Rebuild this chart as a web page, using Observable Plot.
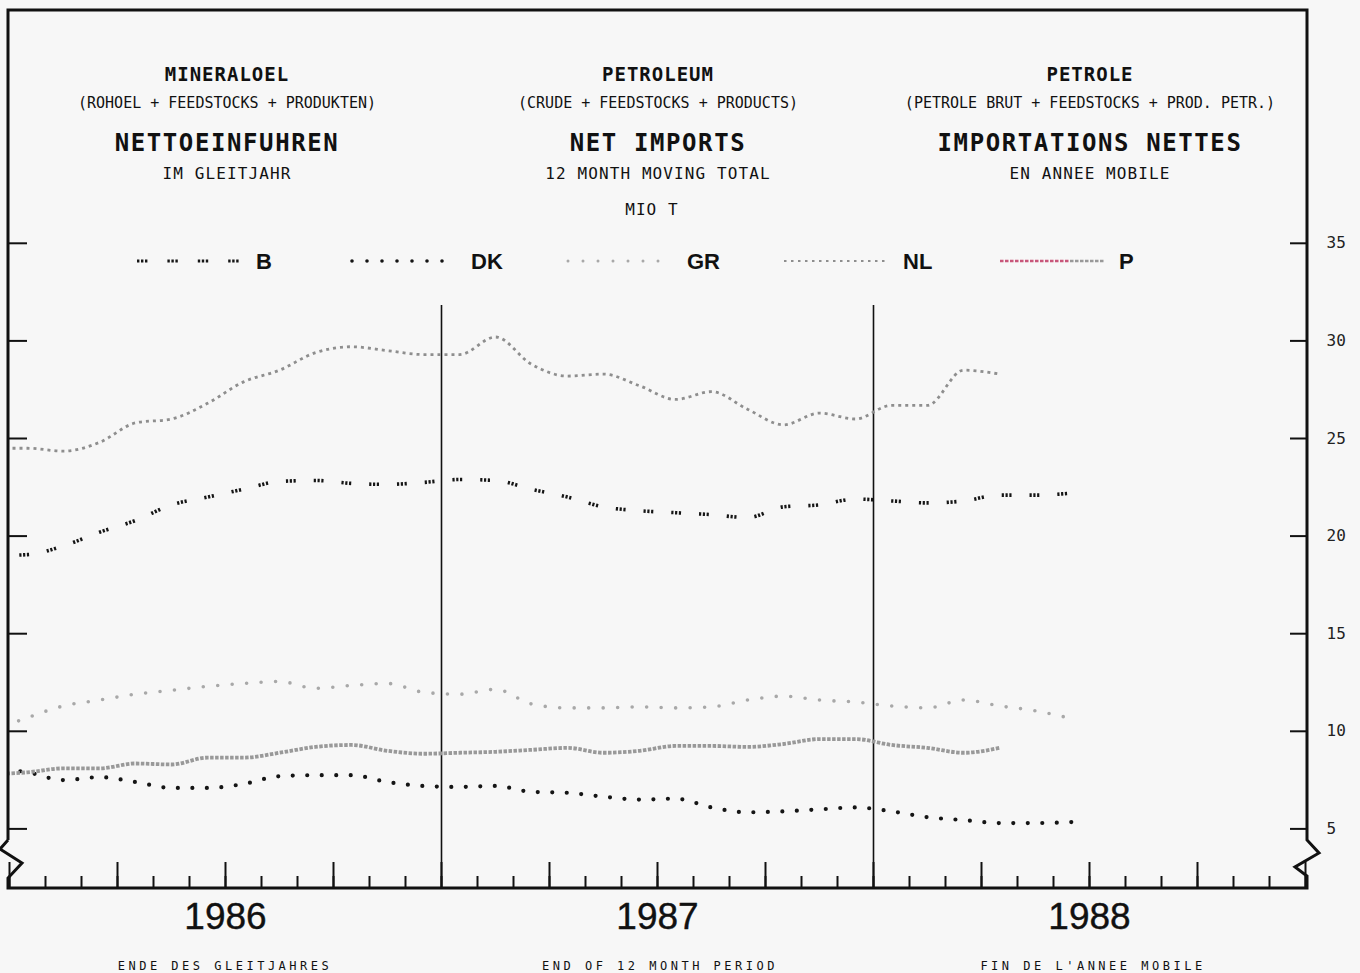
<!DOCTYPE html>
<html>
<head>
<meta charset="utf-8">
<script src="https://cdn.jsdelivr.net/npm/d3@7"></script>
<script src="https://cdn.jsdelivr.net/npm/@observablehq/plot@0.6"></script>
<style>
  html, body { margin: 0; padding: 0; background: #f7f7f7; }
  #chart { width: 1360px; height: 973px; }
</style>
</head>
<body>
<div id="chart"></div>
<script>
// ---------- DATA (Mio t, 12 month moving total, by end month) ----------
const months = [
  "1985-12",
  "1986-01","1986-02","1986-03","1986-04","1986-05","1986-06",
  "1986-07","1986-08","1986-09","1986-10","1986-11","1986-12",
  "1987-01","1987-02","1987-03","1987-04","1987-05","1987-06",
  "1987-07","1987-08","1987-09","1987-10","1987-11","1987-12",
  "1988-01","1988-02","1988-03","1988-04","1988-05","1988-06"
];
const seriesB  = [19.0, 19.05, 19.5, 20.2, 20.8, 21.6, 22.0, 22.4, 22.8, 22.85, 22.7, 22.65, 22.75,
                  22.9, 22.85, 22.4, 22.0, 21.5, 21.3, 21.2, 21.1, 20.95, 21.5, 21.6, 21.9,
                  21.8, 21.7, 21.8, 22.1, 22.1, 22.2];
const seriesDK = [8.1, 7.9, 7.5, 7.65, 7.4, 7.1, 7.1, 7.3, 7.7, 7.75, 7.75, 7.4, 7.2,
                  7.15, 7.2, 6.9, 6.85, 6.65, 6.5, 6.55, 6.1, 5.85, 5.9, 6.0, 6.1,
                  5.9, 5.6, 5.45, 5.3, 5.3, 5.35];
const seriesGR = [10.0, 10.7, 11.3, 11.6, 11.9, 12.1, 12.3, 12.45, 12.55, 12.2, 12.35, 12.45, 12.0,
                  11.9, 12.15, 11.4, 11.2, 11.2, 11.25, 11.2, 11.25, 11.6, 11.8, 11.6, 11.5,
                  11.3, 11.2, 11.6, 11.3, 11.05, 10.65];
const seriesNL = [24.5, 24.5, 24.35, 24.8, 25.8, 26.0, 26.8, 27.9, 28.5, 29.4, 29.7, 29.5, 29.3,
                  29.3, 30.2, 28.8, 28.2, 28.3, 27.7, 27.0, 27.4, 26.5, 25.7, 26.3, 26.0,
                  26.7, 26.7, 28.5, 28.3, null, null];
const seriesP  = [7.8, 7.9, 8.1, 8.1, 8.35, 8.3, 8.65, 8.65, 8.9, 9.2, 9.3, 9.0, 8.85,
                  8.9, 8.95, 9.05, 9.15, 8.9, 9.0, 9.25, 9.25, 9.2, 9.35, 9.6, 9.6,
                  9.3, 9.15, 8.9, 9.15, null, null];

const seriesNames = ["B", "DK", "GR", "NL", "P"];
const yTicks = [5, 10, 15, 20, 25, 30, 35];
const yearLabels = ["1986", "1987", "1988"];
const captionLabels = ["ENDE DES GLEITJAHRES", "END OF 12 MONTH PERIOD", "FIN DE L'ANNEE MOBILE"];
const titleDE = ["MINERALOEL", "(ROHOEL + FEEDSTOCKS + PRODUKTEN)", "NETTOEINFUHREN", "IM GLEITJAHR"];
const titleEN = ["PETROLEUM", "(CRUDE + FEEDSTOCKS + PRODUCTS)", "NET IMPORTS", "12 MONTH MOVING TOTAL"];
const titleFR = ["PETROLE", "(PETROLE BRUT + FEEDSTOCKS + PROD. PETR.)", "IMPORTATIONS NETTES", "EN ANNEE MOBILE"];
const unitLabel = "MIO T";

// ---------- derived ----------
const monthIndex = m => { const [Y, M] = m.split("-").map(Number); return (Y - 1986) * 12 + (M - 1) + 0.5; };
const valuesBySeries = {B: seriesB, DK: seriesDK, GR: seriesGR, NL: seriesNL, P: seriesP};
const rows = {};
for (const s of seriesNames) {
  rows[s] = months.map((m, i) => ({t: monthIndex(m), v: valuesBySeries[s][i]})).filter(d => d.v != null);
}
const monthTicks = d3.range(0, 37);
const quarterTicks = d3.range(0, 37, 3);
const yearBreaks = [12, 24];
const yearMids = yearLabels.map((y, i) => i * 12 + 6);

const styles = {
  B:  {stroke: "#151515", strokeWidth: 3.6, strokeDasharray: "2.2 1.6 2.2 1.6 2.2 18", strokeLinecap: "butt"},
  DK: {stroke: "#151515", strokeWidth: 4.2, strokeDasharray: "0 14.5", strokeLinecap: "round"},
  GR: {stroke: "#a8a8a8", strokeWidth: 3.6, strokeDasharray: "0 14.5", strokeLinecap: "round"},
  NL: {stroke: "#8e8e8e", strokeWidth: 2.8, strokeDasharray: "3 4", strokeLinecap: "butt"},
  P:  {stroke: "#999999", strokeWidth: 3.8, strokeDasharray: "3.5 1.5", strokeLinecap: "butt"}
};

const MONO = "DejaVu Sans Mono";
const frameW = 1307 - 8, frameH = 888 - 10;

const plot = Plot.plot({
  width: 1360, height: 973,
  marginLeft: 8, marginRight: 53, marginTop: 10, marginBottom: 85,
  x: {domain: [0, 36], range: [9, 1305], axis: null},
  y: {domain: [0, 45], range: [926, 47.6], axis: null},
  style: {background: "transparent", fontFamily: MONO, color: "#111", overflow: "visible"},
  marks: [
    // year boundaries
    Plot.ruleX(yearBreaks, {x: d => d, insetTop: 295, stroke: "#111", strokeWidth: 1.6}),
    // month / quarter ticks
    Plot.tickX(monthTicks, {x: d => d, insetTop: frameH - 12, stroke: "#111", strokeWidth: 2}),
    Plot.tickX(quarterTicks, {x: d => d, insetTop: frameH - 26, stroke: "#111", strokeWidth: 2}),
    // y ticks, both sides, inward
    Plot.tickY(yTicks, {y: d => d, insetLeft: frameW - 17, stroke: "#111", strokeWidth: 2}),
    Plot.tickY(yTicks, {y: d => d, insetRight: frameW - 19, stroke: "#111", strokeWidth: 2}),
    Plot.text(yTicks, {y: d => d, text: d => String(d), frameAnchor: "right", dx: 19, textAnchor: "start",
                       fontSize: 16, fontFamily: MONO, fill: "#222"}),
    // year labels
    Plot.text(yearMids, {x: d => d, text: (d, i) => yearLabels[i], frameAnchor: "bottom", dy: 40,
                         fontSize: 37, fontFamily: "Liberation Sans", fill: "#111", stroke: "#111", strokeWidth: 0.4}),
    // series
    ...seriesNames.map(s => Plot.line(rows[s], {x: "t", y: "v", curve: "monotone-x", clip: true, ...styles[s]}))
  ]
});
document.getElementById("chart").appendChild(plot);

// ---------- decorations: frame with axis breaks, titles, legend, captions ----------
const svg = d3.select(plot);
const framePath = [
  [8, 840], [8, 10], [1307, 10], [1307, 840], [1319, 853], [1295, 867], [1307, 876], [1307, 888],
  [8, 888], [8, 878], [22, 863], [0, 849], [8, 840]
];
svg.append("path")
  .attr("d", d3.line()(framePath))
  .attr("fill", "none").attr("stroke", "#111").attr("stroke-width", 3).attr("stroke-linejoin", "miter");

const cols = [227, 658, 1090];
const titleSets = [titleDE, titleEN, titleFR];
const rowSpecs = [
  {y: 74, size: 19, weight: "bold", ls: 1},
  {y: 103, size: 15, weight: "normal", ls: 0},
  {y: 143, size: 24, weight: "bold", ls: 1.6},
  {y: 173, size: 16, weight: "normal", ls: 1.1}
];
titleSets.forEach((set, c) => {
  set.forEach((txt, r) => {
    const sp = rowSpecs[r];
    svg.append("text").text(txt)
      .attr("x", cols[c]).attr("y", sp.y)
      .attr("text-anchor", "middle").attr("dominant-baseline", "central")
      .attr("font-family", MONO).attr("font-size", sp.size).attr("font-weight", sp.weight)
      .attr("letter-spacing", sp.ls).attr("fill", "#111");
  });
});
svg.append("text").text(unitLabel)
  .attr("x", 652).attr("y", 209).attr("text-anchor", "middle").attr("dominant-baseline", "central")
  .attr("font-family", MONO).attr("font-size", 16).attr("letter-spacing", 1.1).attr("fill", "#111");

// legend
const legendX = [137, 352, 568, 784, 1000];
seriesNames.forEach((s, i) => {
  const st = styles[s];
  const x0 = legendX[i], x1 = x0 + 105, y = 261;
  if (s === "P") {
    svg.append("line").attr("x1", x0).attr("x2", x0 + 70).attr("y1", y).attr("y2", y)
      .attr("stroke", "#c8567a").attr("stroke-width", 2.6).attr("stroke-dasharray", st.strokeDasharray);
    svg.append("line").attr("x1", x0 + 70).attr("x2", x1).attr("y1", y).attr("y2", y)
      .attr("stroke", st.stroke).attr("stroke-width", 2.6).attr("stroke-dasharray", st.strokeDasharray);
  } else {
    svg.append("line").attr("x1", x0).attr("x2", x1).attr("y1", y).attr("y2", y)
      .attr("stroke", st.stroke).attr("stroke-width", s === "NL" ? 2.2 : st.strokeWidth - 0.6)
      .attr("stroke-dasharray", s === "B" ? "2.4 1.6 2.4 1.6 2.4 20" : (s === "DK" || s === "GR") ? "0 15" : "2.5 4.5")
      .attr("stroke-linecap", st.strokeLinecap);
  }
  svg.append("text").text(s)
    .attr("x", x0 + 119).attr("y", y).attr("text-anchor", "start").attr("dominant-baseline", "central")
    .attr("font-family", "Liberation Sans").attr("font-weight", "bold").attr("font-size", 22).attr("fill", "#111");
});

// captions below the axis
captionLabels.forEach((t, i) => {
  svg.append("text").text(t)
    .attr("x", [225, 660, 1093][i]).attr("y", 966).attr("text-anchor", "middle").attr("dominant-baseline", "central")
    .attr("font-family", MONO).attr("font-size", 12).attr("letter-spacing", 3.5).attr("fill", "#111");
});
</script>
</body>
</html>
